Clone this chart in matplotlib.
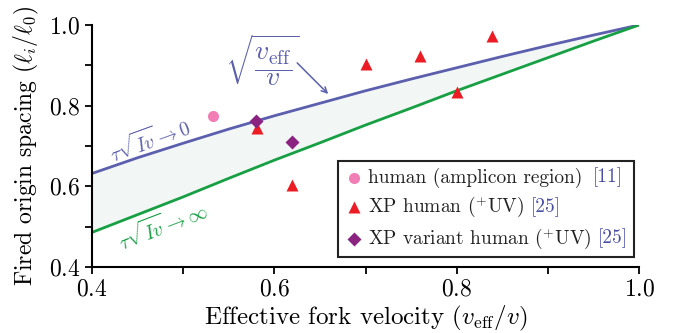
import matplotlib
matplotlib.use("Agg")
import matplotlib.pyplot as plt
from matplotlib.lines import Line2D
from matplotlib.offsetbox import (AnchoredOffsetbox, DrawingArea, HPacker,
                                  TextArea, VPacker)

plt.rcParams["font.family"] = "cmr10"
plt.rcParams["mathtext.fontset"] = "cm"
plt.rcParams["axes.unicode_minus"] = False
plt.rcParams["axes.formatter.use_mathtext"] = True

# theory curves
x_curve = [0.40, 0.45, 0.50, 0.55, 0.60, 0.65, 0.70, 0.75, 0.80, 0.85, 0.90, 0.95, 1.00]
y_upper = [0.632, 0.671, 0.707, 0.742, 0.775, 0.806, 0.837, 0.866, 0.894, 0.922, 0.949, 0.975, 1.000]
y_lower = [0.486, 0.530, 0.574, 0.620, 0.665, 0.708, 0.752, 0.794, 0.837, 0.878, 0.919, 0.960, 1.000]

# data points
human_x = [0.533]
human_y = [0.774]
xp_x = [0.581, 0.619, 0.700, 0.760, 0.800, 0.839]
xp_y = [0.745, 0.603, 0.903, 0.923, 0.834, 0.973]
xpv_x = [0.580, 0.619]
xpv_y = [0.762, 0.710]

legend_labels = ["human (amplicon region) ", r"XP human (${}^{+}$UV) ",
                 r"XP variant human (${}^{+}$UV) "]
legend_refs = ["[11]", "[25]", "[25]"]

blue = "#5b5fad"
green = "#16a043"
shade = "#f2f6f4"
pink = "#f17fb5"
red = "#ec1c24"
purple = "#8b2381"
refblue = "#4a4fa6"

fig = plt.figure(figsize=(6.77, 3.33), dpi=100)
ax = fig.add_axes([0.136, 0.198, 0.808, 0.727])

ax.fill_between(x_curve, y_lower, y_upper, color=shade, lw=0, zorder=1)
ax.plot(x_curve, y_upper, color=blue, lw=2.0, zorder=2)
ax.plot(x_curve, y_lower, color=green, lw=2.0, zorder=2)

ax.plot(human_x, human_y, "o", color=pink, ms=8, mec="none", zorder=3)
ax.plot(xp_x, xp_y, "^", color=red, ms=9, mec="none", zorder=3)
ax.plot(xpv_x, xpv_y, "D", color=purple, ms=7, mec="none", zorder=4)

ax.set_xlim(0.4, 1.0)
ax.set_ylim(0.4, 1.0)
ax.set_xticks([0.4, 0.6, 0.8, 1.0])
ax.set_yticks([0.4, 0.6, 0.8, 1.0])
ax.set_xticks([0.5, 0.7, 0.9], minor=True)
ax.set_yticks([0.5, 0.7, 0.9], minor=True)
ax.tick_params(which="both", direction="out", width=1.3, length=5, labelsize=17)
for s in ["top", "right"]:
    ax.spines[s].set_visible(False)
for s in ["left", "bottom"]:
    ax.spines[s].set_linewidth(1.5)

ax.set_xlabel(r"Effective fork velocity $(v_{\mathrm{eff}}/v)$", fontsize=18, labelpad=2)
ax.set_ylabel(r"Fired origin spacing $(\ell_i/\ell_0)$", fontsize=17, labelpad=6)

# curve labels
ax.text(0.464, 0.716, r"$\tau\sqrt{Iv}\rightarrow 0$", color=blue, fontsize=14,
        rotation=20, ha="center", va="center")
ax.text(0.478, 0.502, r"$\tau\sqrt{Iv}\rightarrow \infty$", color=green, fontsize=14,
        rotation=21, ha="center", va="center")
ax.text(0.586, 0.913, r"$\sqrt{\dfrac{v_{\mathrm{eff}}}{v}}$", color=blue, fontsize=20,
        ha="center", va="center")
ax.annotate("", xy=(0.659, 0.829), xytext=(0.625, 0.906),
            arrowprops=dict(arrowstyle="->", color=blue, lw=1.1,
                            shrinkA=0, shrinkB=0))

# legend with coloured references
markers = [("o", pink, 8), ("^", red, 9), ("D", purple, 7)]
rows = []
for (m, c, s), lab, ref in zip(markers, legend_labels, legend_refs):
    da = DrawingArea(14, 12, 0, 0)
    da.add_artist(Line2D([7], [6], marker=m, color=c, ms=s, mec="none", ls="none"))
    t1 = TextArea(lab, textprops=dict(fontsize=14, color="#222222"))
    t2 = TextArea(ref, textprops=dict(fontsize=14, color=refblue))
    rows.append(HPacker(children=[da, t1, t2], align="center", pad=0, sep=3))
box = VPacker(children=rows, align="left", pad=0, sep=5)
leg = AnchoredOffsetbox(loc="lower right", child=box, pad=0.45, borderpad=0,
                        frameon=True, bbox_to_anchor=(0.991, 0.041),
                        bbox_transform=ax.transAxes)
leg.patch.set_edgecolor("#222222")
leg.patch.set_linewidth(1.5)
leg.patch.set_boxstyle("square", pad=0)
ax.add_artist(leg)

fig.savefig("out.png", dpi=100)
